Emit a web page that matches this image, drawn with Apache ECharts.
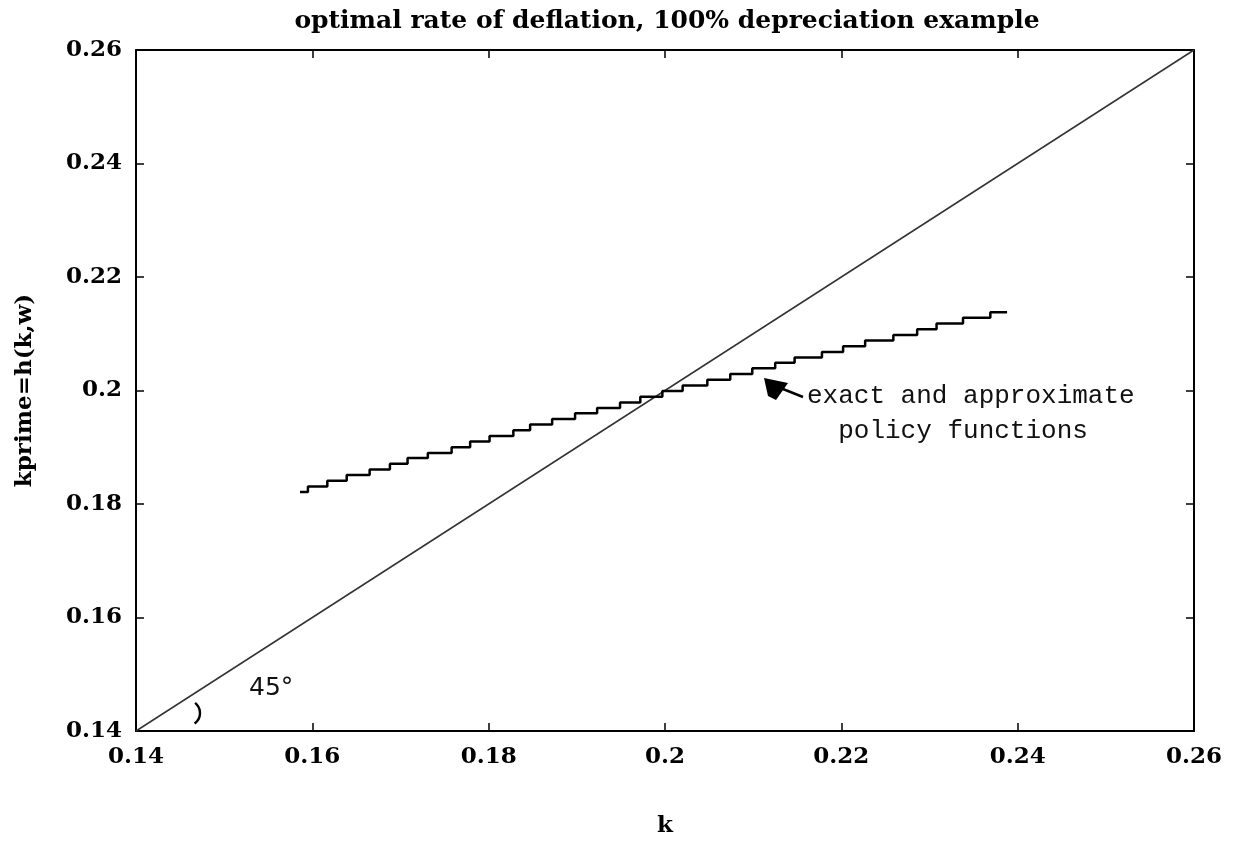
<!DOCTYPE html>
<html>
<head>
<meta charset="utf-8">
<script src="https://cdn.jsdelivr.net/npm/echarts@6/dist/echarts.min.js"></script>
<style>
html,body{margin:0;padding:0;background:#fff;}
#chart{width:1238px;height:843px;}
</style>
</head>
<body>
<div id="chart"></div>
<script>
// ---- data ----
var xTicks = [0.14, 0.16, 0.18, 0.2, 0.22, 0.24, 0.26];
var yTicks = [0.14, 0.16, 0.18, 0.2, 0.22, 0.24, 0.26];
// 45 degree line
var diagK = [0.14, 0.26];
var diagKprime = [0.14, 0.26];
// policy function (step): k at which each level starts, and the level
var stepK = [0.1586, 0.1595, 0.1617, 0.1639, 0.1665, 0.1688, 0.1708, 0.1731, 0.1758, 0.1779,
             0.1801, 0.1828, 0.1847, 0.1872, 0.1898, 0.1923, 0.1949, 0.1972, 0.1997, 0.2020,
             0.2048, 0.2074, 0.2099, 0.2125, 0.2147, 0.2178, 0.2202, 0.2227, 0.2259, 0.2286,
             0.2308, 0.2338, 0.2369, 0.2388];
var stepKprime = [0.1821, 0.1831, 0.1841, 0.1851, 0.1861, 0.1871, 0.1881, 0.1890, 0.1900, 0.1910,
                  0.1920, 0.1930, 0.1940, 0.1950, 0.1960, 0.1969, 0.1979, 0.1989, 0.1999, 0.2009,
                  0.2019, 0.2029, 0.2039, 0.2049, 0.2058, 0.2068, 0.2078, 0.2088, 0.2098, 0.2108,
                  0.2118, 0.2128, 0.2138, 0.2138];
var titleText = 'optimal rate of deflation, 100% depreciation example';
var xName = 'k';
var yName = 'kprime=h(k,w)';
var noteLines = ['exact and approximate', '  policy functions'];
var angleText = '45°';

// ---- chart ----
var chart = echarts.init(document.getElementById('chart'), null, {renderer: 'canvas'});
var serif = '"DejaVu Serif", "Liberation Serif", serif';
var labelStyle = {color: '#000', fontFamily: serif, fontWeight: 'bold', fontSize: 23};

function zip(a, b) { return a.map(function (v, i) { return [v, b[i]]; }); }
function fmt(v) { return String(+v.toFixed(2)); }

var axisCommon = {
  type: 'value', min: 0.14, max: 0.26, interval: 0.02,
  axisLine: {show: true, onZero: false, lineStyle: {color: '#000', width: 2}},
  axisTick: {show: true, inside: true, length: 8, lineStyle: {color: '#000', width: 1.5}},
  splitLine: {show: false}
};

var option = {
  backgroundColor: '#fff',
  animation: false,
  title: {
    text: titleText, left: 662, top: 4, textAlign: 'center',
    textStyle: {color: '#000', fontFamily: serif, fontWeight: 'bold', fontSize: 25}
  },
  grid: {left: 136, right: 44, top: 50, bottom: 112, containLabel: false},
  xAxis: [
    Object.assign({}, axisCommon, {
      position: 'bottom', name: xName, nameLocation: 'middle', nameGap: 84,
      nameTextStyle: labelStyle,
      axisLabel: Object.assign({margin: 15, formatter: fmt}, labelStyle)
    }),
    Object.assign({}, axisCommon, {position: 'top', axisLabel: {show: false}})
  ],
  yAxis: [
    Object.assign({}, axisCommon, {
      position: 'left', name: yName, nameLocation: 'middle', nameGap: 99, nameRotate: 90,
      nameTextStyle: Object.assign({}, labelStyle, {fontSize: 23}),
      axisLabel: Object.assign({margin: 14, formatter: fmt}, labelStyle)
    }),
    Object.assign({}, axisCommon, {position: 'right', axisLabel: {show: false}})
  ],
  series: [
    {
      type: 'line', name: '45 degree', data: zip(diagK, diagKprime),
      showSymbol: false, symbol: 'none',
      lineStyle: {color: '#333', width: 1.5}, z: 2
    },
    {
      type: 'line', name: 'policy', data: zip(stepK, stepKprime), step: 'end',
      showSymbol: false, symbol: 'none',
      lineStyle: {color: '#000', width: 2.5}, z: 3
    }
  ],
  graphic: [
    {type: 'text', left: 249, top: 676,
     style: {text: angleText, fill: '#111', font: '25px "DejaVu Sans", sans-serif'}},
    {type: 'arc', shape: {cx: 187, cy: 713, r: 13, startAngle: -0.9, endAngle: 0.95},
     style: {stroke: '#000', lineWidth: 2.4, fill: null}},
    {type: 'text', left: 807, top: 379,
     style: {text: noteLines.join('\n'), fill: '#111', lineHeight: 35,
             font: '26px "Liberation Mono", "DejaVu Sans Mono", monospace'}},
    {type: 'line', shape: {x1: 803, y1: 397, x2: 778, y2: 387},
     style: {stroke: '#000', lineWidth: 2.5}},
    {type: 'polygon', shape: {points: [[764, 378], [788, 383], [776, 400], [768, 396]]},
     style: {fill: '#000'}}
  ]
};
chart.setOption(option);
</script>
</body>
</html>
